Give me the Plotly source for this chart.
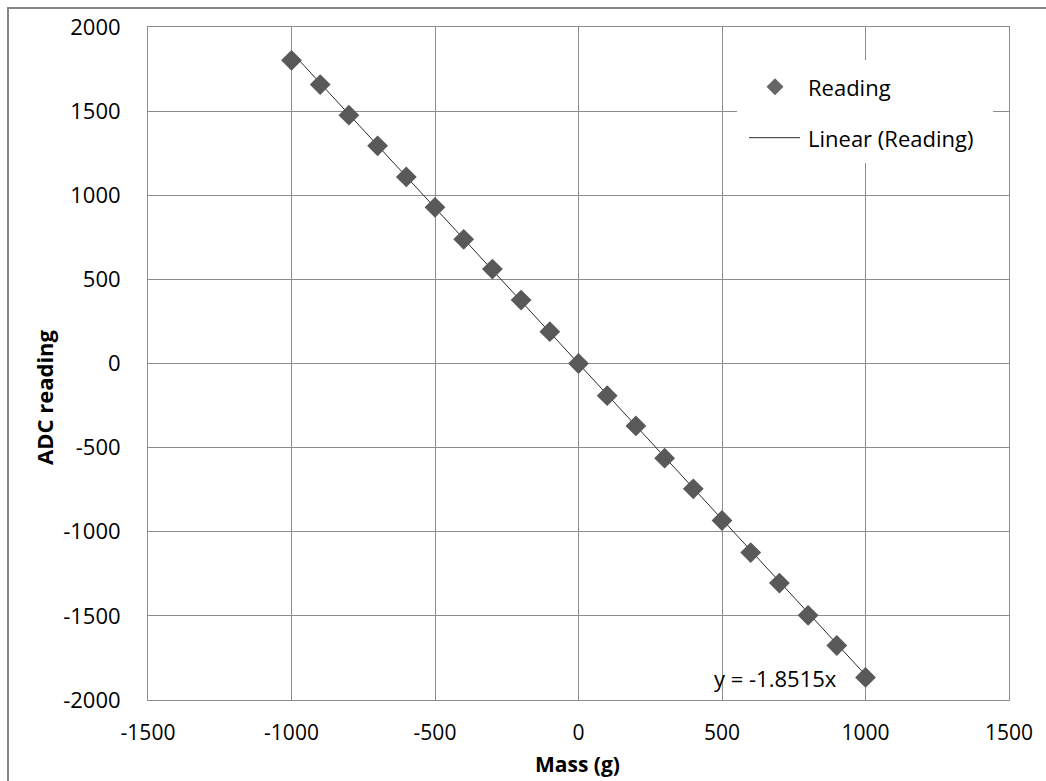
import plotly.graph_objects as go

# Calibration data: applied mass (g) against raw ADC reading
mass_g = [-1000, -900, -800, -700, -600, -500, -400, -300, -200, -100, 0,
          100, 200, 300, 400, 500, 600, 700, 800, 900, 1000]
adc_reading = [1802, 1658, 1476, 1294, 1109, 928, 738, 561, 377, 189, 0,
               -191, -371, -563, -745, -933, -1124, -1305, -1497, -1676, -1866]

# Linear trendline through the origin
slope = -1.8515
trend_x = [min(mass_g), max(mass_g)]
trend_y = [slope * v for v in trend_x]

x_ticks = [-1500, -1000, -500, 0, 500, 1000, 1500]
y_ticks = [-2000, -1500, -1000, -500, 0, 500, 1000, 1500, 2000]

W, H = 1046, 781
L, R, T, B = 148, 1009, 27, 700          # plot area in pixels
FONT = "'Open Sans', Lato, sans-serif"
FS = 22
GRID = "#8c8c8c"


def px_x(px):
    return (px - L) / (R - L)


def px_y(py):
    return (B - py) / (B - T)


fig = go.Figure()

fig.add_trace(go.Scatter(
    x=trend_x, y=trend_y, mode="lines", name="Linear (Reading)",
    line=dict(color="#2b2b2b", width=1), showlegend=False, hoverinfo="skip"))

fig.add_trace(go.Scatter(
    x=mass_g, y=adc_reading, mode="markers", name="Reading",
    marker=dict(symbol="diamond", size=16, color="#595959"),
    showlegend=False))

shapes = [
    # outer chart frame
    dict(type="rect", xref="paper", yref="paper",
         x0=px_x(8), x1=px_x(1060), y0=px_y(800), y1=px_y(8),
         line=dict(color="#878787", width=2), fillcolor="rgba(0,0,0,0)",
         layer="above"),
    # legend box
    dict(type="rect", xref="paper", yref="paper",
         x0=px_x(737), x1=px_x(993), y0=px_y(163), y1=px_y(60),
         line=dict(width=0), fillcolor="white", layer="above"),
    # legend line sample
    dict(type="line", xref="paper", yref="paper",
         x0=px_x(749), x1=px_x(800), y0=px_y(137.7), y1=px_y(137.7),
         line=dict(color="#2b2b2b", width=1), layer="above"),
    # legend diamond sample
    dict(type="path", xref="paper", yref="paper",
         xsizemode="pixel", ysizemode="pixel",
         xanchor=px_x(775), yanchor=px_y(86.7),
         path="M -8.5 0 L 0 8.5 L 8.5 0 L 0 -8.5 Z",
         fillcolor="#666666", line=dict(width=0), layer="above"),
]

annotations = [
    dict(text="Reading", xref="paper", yref="paper",
         x=px_x(806), y=px_y(86.7), xanchor="left", yanchor="middle",
         showarrow=False, font=dict(family=FONT, size=FS, color="#000")),
    dict(text="Linear (Reading)", xref="paper", yref="paper",
         x=px_x(806), y=px_y(137.7), xanchor="left", yanchor="middle",
         showarrow=False, font=dict(family=FONT, size=FS, color="#000")),
    dict(text="y = -1.8515x", xref="x", yref="y",
         x=685, y=-1867, xanchor="center", yanchor="middle",
         showarrow=False, font=dict(family=FONT, size=FS, color="#000")),
    dict(text="<b>Mass (g)</b>", xref="paper", yref="paper",
         x=px_x(577), y=px_y(764), xanchor="center", yanchor="middle",
         showarrow=False, font=dict(family=FONT, size=21, color="#000")),
    dict(text="<b>ADC reading</b>", xref="paper", yref="paper",
         x=px_x(44), y=px_y(397), xanchor="center", yanchor="middle",
         textangle=-90, showarrow=False,
         font=dict(family=FONT, size=FS, color="#000")),
]

fig.update_layout(
    width=W, height=H,
    margin=dict(l=L, r=W - R, t=T, b=H - B),
    paper_bgcolor="white", plot_bgcolor="white",
    font=dict(family=FONT, size=FS, color="#000"),
    shapes=shapes, annotations=annotations,
    xaxis=dict(range=[-1500, 1500], tickvals=x_ticks,
               ticktext=[str(v) for v in x_ticks],
               showgrid=True, gridcolor=GRID, gridwidth=1,
               showline=True, linecolor=GRID, linewidth=1, mirror=True,
               zeroline=False, ticks="", ticklabelstandoff=14,
               tickfont=dict(family=FONT, size=21, color="#000")),
    yaxis=dict(range=[-2000, 2000], tickvals=y_ticks,
               ticktext=[str(v) for v in y_ticks],
               showgrid=True, gridcolor=GRID, gridwidth=1,
               showline=True, linecolor=GRID, linewidth=1, mirror=True,
               zeroline=False, ticks="", ticklabelstandoff=22,
               tickfont=dict(family=FONT, size=FS, color="#000")),
)

fig.write_html("out.html")
